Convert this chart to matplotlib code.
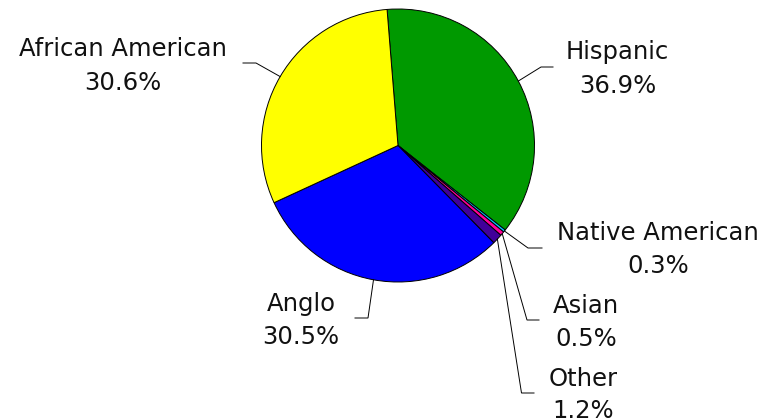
import matplotlib
matplotlib.use("Agg")
import matplotlib.pyplot as plt
import numpy as np

# ---- data ----
categories = ["Hispanic", "Native American", "Asian", "Other", "Anglo", "African American"]
values = [36.9, 0.3, 0.5, 1.2, 30.5, 30.6]
pct_labels = ["36.9%", "0.3%", "0.5%", "1.2%", "30.5%", "30.6%"]
colors = ["#009900", "#00CCFF", "#FF0099", "#400099", "#0000FF", "#FFFF00"]

# ---- layout (pixel coords, y measured from top) ----
W, H = 764, 419
cx, cy, R = 398, 145.5, 136.5
start_angle = 94.6
# elbow and end of leader lines
elbows = [(541, 67), (528, 248), (527, 320), (521.5, 393), (368, 318), (256, 63)]
ends = [(553, 67), (542, 248), (539, 320), (534, 393), (355, 318), (243, 63)]
# label centers x, baselines of two lines
label_x = [617.5, 658, 586, 583.5, 301, 122.5]
label_base = [(59, 93), (240, 273), (313, 346), (386, 418), (311, 344), (56, 90)]

fig = plt.figure(figsize=(W / 100, H / 100), dpi=100)
ax = fig.add_axes([0, 0, 1, 1])

def fy(y):
    return H - y

wedges, _ = ax.pie(values, colors=colors, startangle=start_angle, counterclock=False,
                   center=(cx, fy(cy)), radius=R, frame=True,
                   wedgeprops=dict(edgecolor="black", linewidth=0.7))
ax.set_xlim(0, W)
ax.set_ylim(0, H)
ax.set_aspect("equal")
ax.axis("off")

fs = 17.5
for i, w in enumerate(wedges):
    mid = np.deg2rad((w.theta1 + w.theta2) / 2)
    px = cx + R * np.cos(mid)
    py = fy(cy) + R * np.sin(mid)
    ex, ey = elbows[i]
    tx, ty = ends[i]
    ax.plot([px, ex, tx], [py, fy(ey), fy(ty)], color="black", linewidth=0.7,
            solid_joinstyle="miter")
    b1, b2 = label_base[i]
    ax.text(label_x[i], fy(b1), categories[i], ha="center", va="baseline",
            fontsize=fs, color="#111111", family="DejaVu Sans")
    ax.text(label_x[i], fy(b2), pct_labels[i], ha="center", va="baseline",
            fontsize=fs, color="#111111", family="DejaVu Sans")

fig.savefig("out.png", dpi=100)
